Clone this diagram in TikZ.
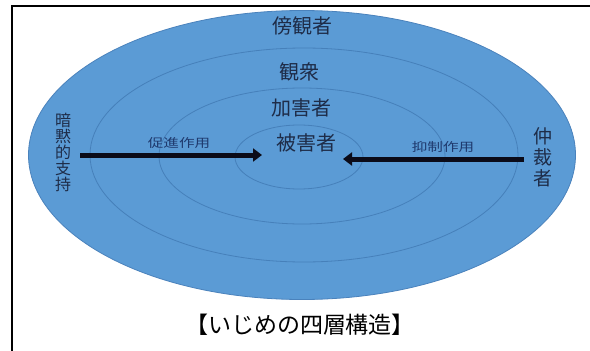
\documentclass[tikz,border=0pt]{standalone}
\usepackage{fontspec}
\newfontfamily\cjk{Noto Sans CJK JP}
\usetikzlibrary{shapes.geometric,arrows.meta}
\definecolor{fillblue}{HTML}{5B9BD5}
\definecolor{ringblue}{HTML}{4680BA}
\definecolor{edgeblue}{HTML}{4A82BC}
\definecolor{txtdark}{HTML}{1E2C48}
\definecolor{lbldark}{HTML}{1F3A6E}
\definecolor{arrowdark}{HTML}{0B0B18}
\tikzset{
  ring/.style={ellipse, draw=ringblue, line width=0.8pt, inner sep=0pt},
  layertext/.style={font=\cjk\fontsize{20}{22}\selectfont, text=txtdark, inner sep=0pt},
  vtext/.style={font=\cjk\fontsize{16}{16}\selectfont, text=txtdark, align=center, inner sep=0pt},
  vtextbig/.style={font=\cjk\fontsize{19}{21}\selectfont, text=txtdark, align=center, inner sep=0pt},
  actlabel/.style={font=\cjk\fontsize{12}{12}\selectfont, text=lbldark, inner sep=0pt, xscale=1.3},
  bigarrow/.style={draw=arrowdark, line width=5pt, -{Triangle[length=9pt,width=13pt]}},
  caption/.style={font=\cjk\fontsize{23}{26}\selectfont, text=black, inner sep=0pt},
}
\begin{document}
\begin{tikzpicture}[x=1pt,y=-1pt]
\useasboundingbox (0,0) rectangle (590,351);
\fill[white] (0,0) rectangle (590,351);
% frame
\coordinate (fbl) at (12,351);
\coordinate (ftl) at (12,6);
\coordinate (ftr) at (590,6);
\draw[line width=1.8pt, black] (fbl) -- (ftl) -- (ftr);
% ellipses
\node[ellipse, fill=fillblue, draw=edgeblue, line width=0.8pt, minimum width=547pt, minimum height=289pt, inner sep=0pt] (outer) at (302,155) {};
\node[ring, minimum width=428pt, minimum height=214pt] (ring2) at (304,155) {};
\node[ring, minimum width=286pt, minimum height=136pt] (ring3) at (302,156) {};
\node[ring, minimum width=128pt, minimum height=64pt] (ring4) at (299,157) {};
% layer labels
\node[layertext] (bystander) at (302,26) {傍観者};
\node[layertext] (audience) at (299,72) {観衆};
\node[layertext] (bully) at (301,108) {加害者};
\node[layertext] (victim) at (306,143) {被害者};
% side labels
\node[vtext] (tacit) at (63,152) {暗\\黙\\的\\支\\持};
\node[vtextbig] (mediator) at (543,157) {仲\\裁\\者};
% arrows
\coordinate (lstart) at (80,155);
\coordinate (lend) at (262,155);
\coordinate (rstart) at (524,159);
\coordinate (rend) at (343,159);
\draw[bigarrow] (lstart) -- (lend);
\draw[bigarrow] (rstart) -- (rend);
\node[actlabel] (promote) at (179,143) {促進作用};
\node[actlabel] (suppress) at (443,147) {抑制作用};
% caption
\node[caption] (cap) at (300,325) {【いじめの四層構造】};
\end{tikzpicture}
\end{document}
